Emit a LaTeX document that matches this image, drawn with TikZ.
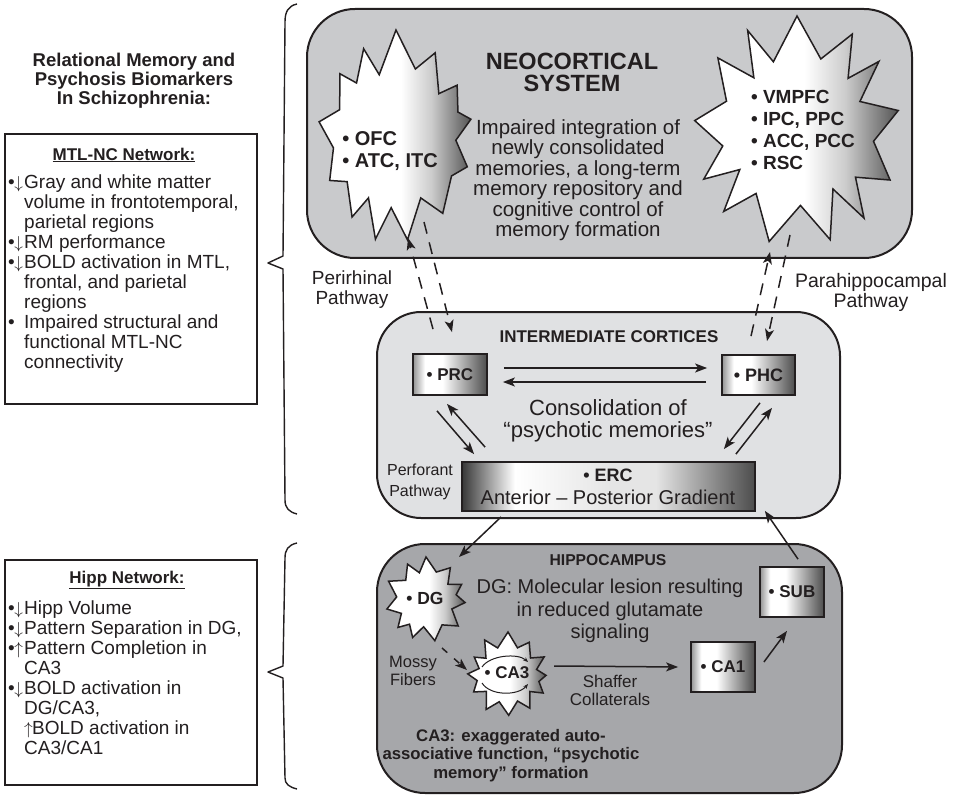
\documentclass[tikz,border=0pt]{standalone}
\usepackage{fontspec}
\setmainfont{Liberation Sans}
\usetikzlibrary{arrows.meta}
\definecolor{ink}{RGB}{35,31,32}
\definecolor{neofill}{RGB}{201,202,204}
\definecolor{intfill}{RGB}{224,225,227}
\definecolor{hipfill}{RGB}{166,167,170}
\definecolor{shA}{gray}{0.58}
\definecolor{shB}{gray}{0.30}
\definecolor{shC}{gray}{0.90}
\definecolor{shD}{gray}{0.22}
\definecolor{shE}{gray}{0.80}
\definecolor{shF}{gray}{0.33}
\pgfdeclarehorizontalshading{smallbox}{100bp}{color(0bp)=(shA); color(25bp)=(shA); color(33bp)=(white); color(45bp)=(white); color(75bp)=(shB); color(100bp)=(shB)}
\pgfdeclarehorizontalshading{ercbox}{100bp}{color(0bp)=(shD); color(25bp)=(shD); color(34bp)=(white); color(50bp)=(shC); color(58bp)=(shC); color(75bp)=(shB); color(100bp)=(shB)}
\pgfdeclarehorizontalshading{burstshade}{100bp}{color(0bp)=(white); color(52bp)=(white); color(62bp)=(shE); color(75bp)=(shF); color(100bp)=(shF)}
\newcommand\fs[2]{\fontsize{#1}{#2}\selectfont}
\newcommand\mydn{{\fs{19}{19}$\downarrow$}}
\newcommand\myup{{\fs{19}{19}$\uparrow$}}
\newcommand\lead[1]{\makebox[16pt][l]{\textbullet\hspace{-0.5pt}#1}}
\newcommand\myind{\hspace*{16pt}}
% cx, cy, outer rx, outer ry, inner rx, inner ry, spikes, seed
\newcommand\burst[8]{%
  \pgfmathtruncatemacro\bN{2*#7-1}%
  \path[burstline] ({#1},{#2-#4})
    \foreach \k [evaluate=\k as \ang using {-90+\k*180/#7+5*sin(\k*#8)},
                 evaluate=\k as \rxx using {ifthenelse(mod(\k,2)==0,#3*(1-0.08*abs(sin(\k*#8*1.7))),#5*(1+0.06*sin(\k*#8*2.3)))},
                 evaluate=\k as \ryy using {ifthenelse(mod(\k,2)==0,#4*(1-0.08*abs(sin(\k*#8*1.7))),#6*(1+0.06*sin(\k*#8*2.3)))}]
     in {1,...,\bN} { -- ({#1+\rxx*cos(\ang)},{#2+\ryy*sin(\ang)}) } -- cycle;
}
\begin{document}
\begin{tikzpicture}[x=1pt,y=-1pt,
  every node/.style={text=ink, inner sep=0pt},
  region/.style={draw=ink, line width=2pt, rounded corners=48pt},
  listbox/.style={draw=ink, line width=1.8pt, fill=white},
  gbox/.style={draw=ink, line width=1.8pt, shade, shading=smallbox, font=\bfseries\fs{17}{17}},
  arr/.style={draw=ink, line width=1.5pt, -{Stealth[length=12pt,width=9pt,inset=3pt]}},
  darr/.style={arr, dash pattern=on 12pt off 9pt},
  smallarr/.style={draw=ink, line width=1pt, -{Stealth[length=5pt,width=4pt]}},
  burstline/.style={draw=ink, line width=1.5pt, shade, shading=burstshade, line join=miter, miter limit=20},
  bracepath/.style={draw=ink, line width=1.4pt, line join=round}]
\useasboundingbox (0,0) rectangle (960,799);

% ---------- left column ----------
\node[font=\bfseries\fs{18.5}{19}, align=center] (title) at (134,81) {Relational Memory and\\Psychosis Biomarkers\\In Schizophrenia:};
\node[listbox, minimum width=252pt, minimum height=270pt] (mtlbox) at (131,269) {};
\node[font=\bfseries\fs{17}{17}] (mtlhead) at (124,155) {\underline{MTL-NC Network:}};
\node[anchor=north west, align=left, font=\fs{19}{20}] (mtltext) at (8,174) {\strut\lead{\mydn}Gray and white matter\\
\myind volume in frontotemporal,\\
\myind parietal regions\\
\lead{\mydn}RM performance\\
\lead{\mydn}BOLD activation in MTL,\\
\myind frontal, and parietal\\
\myind regions\\
\lead{}Impaired structural and\\
\myind functional MTL-NC\\
\myind connectivity};

\node[listbox, minimum width=252pt, minimum height=225pt] (hipbox) at (131,672.5) {};
\node[font=\bfseries\fs{17}{17}] (hiphead) at (127,580) {\underline{Hipp Network:}};
\node[anchor=north west, align=left, font=\fs{19}{20}] (hiptext) at (8,600) {\strut\lead{\mydn}Hipp Volume\\
\lead{\mydn}Pattern Separation in DG,\\
\lead{\myup}Pattern Completion in\\
\myind CA3\\
\lead{\mydn}BOLD activation in\\
\myind DG/CA3,\\
\myind\makebox[8pt][l]{\myup}BOLD activation in\\
\myind CA3/CA1};

% braces
\draw[bracepath] (297,4) .. controls (288,6) and (285,12) .. (285,22) -- (283,256) -- (268,263) -- (283,269) -- (285,500) .. controls (285,508) and (289,512) .. (297,514);
\draw[bracepath] (297,543) .. controls (288,545) and (285,550) .. (285,558) -- (283,666) -- (268,672) -- (283,678) -- (285,778) .. controls (285,784) and (289,787) .. (297,789);

% ---------- regions ----------
\node[region, fill=neofill, minimum width=605pt, minimum height=249pt] (neo) at (609.5,133.5) {};
\node[region, fill=intfill, minimum width=463pt, minimum height=206pt, rounded corners=44pt] (inter) at (608.5,415) {};
\node[region, fill=hipfill, minimum width=465pt, minimum height=249pt] (hippo) at (609.5,668.5) {};

% ---------- neocortical ----------
\burst{396}{138}{78}{108}{63}{68}{13}{37}
\coordinate (ofcstar) at (398,138);
\node[font=\bfseries\fs{20}{22}, align=left] (ofc) at (390,151) {\textbullet\ OFC\\\textbullet\ ATC, ITC};
\burst{797}{131}{103}{115}{74}{72}{13}{53}
\coordinate (vmstar) at (797,131);
\node[font=\bfseries\fs{19}{21.7}, align=left] (vmpfc) at (803,130) {\textbullet\ VMPFC\\\textbullet\ IPC, PPC\\\textbullet\ ACC, PCC\\\textbullet\ RSC};
\node[font=\bfseries\fs{23.5}{21.5}, align=center] (neotitle) at (572,72) {NEOCORTICAL\\[0.5pt]SYSTEM};
\node[font=\fs{20.5}{20.5}, align=center] (neodesc) at (578,180) {Impaired integration of\\newly consolidated\\memories, a long-term\\memory repository and\\cognitive control of\\memory formation};

\node[font=\fs{19}{20}, align=center] (perirh) at (352,290) {Perirhinal\\Pathway};
\node[font=\fs{19.5}{20}, align=center] (parahip) at (871,292) {Parahippocampal\\Pathway};

% ---------- intermediate ----------
\node[font=\bfseries\fs{17}{17}] (inttitle) at (609,337) {INTERMEDIATE CORTICES};
\node[gbox, minimum width=74pt, minimum height=41pt] (prc) at (450,374.5) {\textbullet\ PRC};
\node[gbox, minimum width=73pt, minimum height=40pt, font=\bfseries\fs{18}{18}] (phc) at (758.5,375) {\textbullet\ PHC};
\node[font=\fs{22}{22}, align=center] (consol) at (608,421) {Consolidation of\\“psychotic memories”};
\node[draw=ink, line width=1.8pt, shade, shading=ercbox, minimum width=293pt, minimum height=49pt] (erc) at (608.5,486.5) {};
\node[font=\bfseries\fs{18}{18}] (erctitle) at (608,475) {\textbullet\ ERC};
\node[font=\fs{20}{20}] (ercsub) at (608,497) {Anterior – Posterior Gradient};
\node[font=\fs{16}{21}, align=center] (perforant) at (420,482) {Perforant\\Pathway};

% ---------- hippocampus ----------
\node[font=\bfseries\fs{15.7}{16}] (hiptitle) at (608,560) {HIPPOCAMPUS};
\burst{426}{600}{42}{43}{29}{28}{11}{41}
\node[font=\bfseries\fs{17.5}{18}] (dg) at (425,598) {\textbullet\ DG};
\burst{508}{675}{41}{43}{30}{27}{12}{29}
\node[font=\bfseries\fs{17}{18}] (ca3) at (507,673) {\textbullet\ CA3};
\draw[smallarr] (482,667) .. controls (490,655) and (518,653) .. (528,662);
\draw[smallarr] (482,683) .. controls (490,696) and (518,696) .. (528,684);
\node[font=\fs{20}{22.5}, align=center] (dgdesc) at (610,611) {DG: Molecular lesion resulting\\in reduced glutamate\\signaling};
\node[gbox, minimum width=64pt, minimum height=50pt] (ca1) at (723,667) {\textbullet\ CA1};
\node[gbox, minimum width=64pt, minimum height=50pt] (sub) at (792,592) {\textbullet\ SUB};
\node[font=\fs{16.5}{18}, align=center] (mossy) at (413,671) {Mossy\\Fibers};
\node[font=\fs{17}{18}, align=center] (shaffer) at (610,690) {Shaffer\\Collaterals};
\node[font=\bfseries\fs{16.75}{18.5}, align=center] (ca3desc) at (511,755.5) {CA3: exaggerated auto-\\associative function, “psychotic\\memory” formation};

% ---------- connectors ----------
\draw[arr] ([shift={(16pt,6.5pt)}]prc.east) -- ([shift={(-14pt,7pt)}]phc.west);
\draw[arr] ([shift={(-15pt,-7pt)}]phc.west) -- ([shift={(15pt,-7.5pt)}]prc.east);
\draw[arr] ([shift={(-13pt,-15pt)}]prc.south) -- ([shift={(13pt,7pt)}]erc.north west);
\draw[arr] ([shift={(24pt,14pt)}]erc.north west) -- ([shift={(-3pt,-8pt)}]prc.south);
\draw[arr] ([shift={(1.5pt,-7pt)}]phc.south) -- ([shift={(-32pt,12pt)}]erc.north east);
\draw[arr] ([shift={(-20pt,7pt)}]erc.north east) -- ([shift={(13.5pt,-12pt)}]phc.south);
\draw[arr] ([shift={(40pt,-5pt)}]erc.south west) -- ([shift={(34pt,41pt)}]dg.center);
\draw[arr] ([shift={(6pt,7pt)}]sub.north) -- ([shift={(9pt,1pt)}]erc.south east);
\draw[arr, dash pattern=on 7pt off 9pt] ([shift={(17pt,-50pt)}]dg.center) -- ([shift={(-40pt,3pt)}]ca3.center);
\draw[arr] ([shift={(47pt,7pt)}]ca3.center) -- ([shift={(-12pt,0pt)}]ca1.west);
\draw[arr] ([shift={(8pt,5pt)}]ca1.east) -- ([shift={(-5pt,-13pt)}]sub.south);
\draw[darr] ([shift={(-17pt,24pt)}]prc.north) -- ([shift={(10pt,-100pt)}]ofcstar);
\draw[darr] ([shift={(26pt,-84pt)}]ofcstar) -- ([shift={(2pt,21pt)}]prc.north);
\draw[darr] ([shift={(-7.5pt,18pt)}]phc.north) -- ([shift={(-27pt,-121pt)}]vmstar);
\draw[darr] ([shift={(-7pt,-104pt)}]vmstar) -- ([shift={(8.5pt,13pt)}]phc.north);
\end{tikzpicture}
\end{document}
